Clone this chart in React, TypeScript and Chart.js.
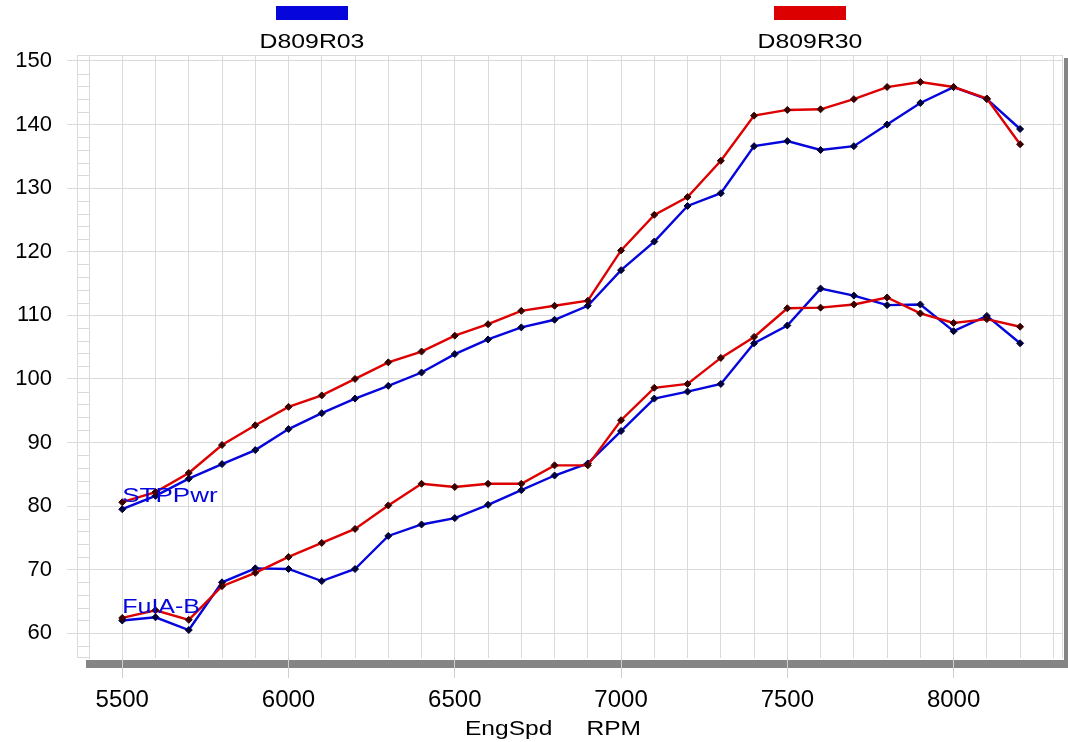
import React, { useEffect, useRef } from "react";
import { Chart, registerables } from "chart.js";

Chart.register(...registerables);

// ---------------- data ----------------
const rpm = [
  5500, 5600, 5700, 5800, 5900, 6000, 6100, 6200, 6300, 6400, 6500, 6600, 6700, 6800,
  6900, 7000, 7100, 7200, 7300, 7400, 7500, 7600, 7700, 7800, 7900, 8000, 8100, 8200,
];

const runNames = ["D809R03", "D809R30"];
const channelNames = ["STPPwr", "FuIA-B"];

const pwrR03 = [
  79.5, 81.6, 84.3, 86.6, 88.8, 92.1, 94.6, 96.9, 98.9, 101.0, 103.9, 106.2, 108.1, 109.3,
  111.5, 117.1, 121.6, 127.2, 129.2, 136.6, 137.4, 136.0, 136.6, 140.0, 143.4, 145.9, 144.0, 139.3,
];
const pwrR30 = [
  80.6, 82.2, 85.2, 89.6, 92.7, 95.6, 97.4, 100.0, 102.6, 104.3, 106.8, 108.6, 110.7, 111.5,
  112.3, 120.2, 125.8, 128.6, 134.3, 141.4, 142.3, 142.4, 144.0, 145.9, 146.7, 145.9, 144.1, 136.9,
];
const fuelR03 = [
  62.0, 62.5, 60.5, 68.0, 70.2, 70.1, 68.2, 70.1, 75.3, 77.1, 78.1, 80.2, 82.5, 84.8,
  86.7, 91.8, 96.9, 98.0, 99.2, 105.6, 108.4, 114.2, 113.1, 111.6, 111.7, 107.5, 109.9, 105.6,
];
const fuelR30 = [
  62.4, 63.6, 62.1, 67.4, 69.5, 72.0, 74.2, 76.4, 80.1, 83.5, 83.0, 83.5, 83.5, 86.4,
  86.4, 93.5, 98.6, 99.2, 103.3, 106.6, 111.1, 111.2, 111.7, 112.8, 110.3, 108.8, 109.4, 108.2,
];

const xTickLabels = [5500, 6000, 6500, 7000, 7500, 8000];
const xGridValues = [
  5400, 5500, 5600, 5700, 5800, 5900, 6000, 6100, 6200, 6300, 6400, 6500, 6600, 6700, 6800,
  6900, 7000, 7100, 7200, 7300, 7400, 7500, 7600, 7700, 7800, 7900, 8000, 8100, 8200, 8300,
];
const yTickValues = [60, 70, 80, 90, 100, 110, 120, 130, 140, 150];
const xTitle = "EngSpd     RPM";

// ---------------- style ----------------
const BLUE = "#0505dc";
const RED = "#dd0000";
const GRID = "#dadada";
const FONT = "'Liberation Sans', Arial, Helvetica, sans-serif";

function stretchText(
  ctx: CanvasRenderingContext2D,
  text: string,
  x: number,
  y: number,
  size: number,
  color: string,
  sx: number,
  align: "left" | "center"
) {
  ctx.save();
  ctx.font = `${size}px ${FONT}`;
  ctx.fillStyle = color;
  ctx.textBaseline = "alphabetic";
  ctx.textAlign = "left";
  const w = ctx.measureText(text).width * sx;
  const left = align === "center" ? x - w / 2 : x;
  ctx.translate(left, y);
  ctx.scale(sx, 1);
  ctx.fillText(text, 0, 0);
  ctx.restore();
}

const decorPlugin = {
  id: "decor",
  beforeDraw(chart: any) {
    const { ctx, chartArea } = chart;
    const { left, right, top, bottom } = chartArea;
    const y = chart.scales.y;
    ctx.save();
    // drop shadow (bottom bar and right edge)
    ctx.fillStyle = "#858585";
    ctx.fillRect(left - 3, bottom + 2, chart.width - (left - 3), 8);
    ctx.fillRect(right + 1, top + 3, chart.width - right - 1, bottom + 10 - (top + 3));
    // borders
    ctx.strokeStyle = GRID;
    ctx.lineWidth = 1;
    ctx.beginPath();
    ctx.moveTo(left - 12, top + 0.5);
    ctx.lineTo(right, top + 0.5);
    ctx.moveTo(right - 0.5, top);
    ctx.lineTo(right - 0.5, bottom);
    // minor tick strip
    ctx.moveTo(left - 11.5, top);
    ctx.lineTo(left - 11.5, bottom);
    ctx.moveTo(left - 12, bottom - 0.5);
    ctx.lineTo(left, bottom - 0.5);
    for (let v = Math.ceil(y.min); v <= y.max; v++) {
      if (v % 2 !== 0 || v % 10 === 0) continue;
      const py = Math.round(y.getPixelForValue(v)) + 0.5;
      ctx.moveTo(left - 12, py);
      ctx.lineTo(left, py);
    }
    ctx.stroke();
    ctx.restore();
  },
  afterDraw(chart: any) {
    const { ctx } = chart;
    const xs = chart.scales.x;
    const ys = chart.scales.y;
    // legend
    const legendCenters = [312, 810];
    const legendColors = [BLUE, RED];
    runNames.forEach((name, i) => {
      ctx.fillStyle = legendColors[i];
      ctx.fillRect(legendCenters[i] - 36, 6, 72, 14);
      stretchText(ctx, name, legendCenters[i], 48, 20, "#000", 1.24, "center");
    });
    // channel labels
    const firstVals = [pwrR03[0], fuelR03[0]];
    const stretch = [1.3, 1.25];
    channelNames.forEach((name, i) => {
      const px = xs.getPixelForValue(rpm[0]);
      const py = ys.getPixelForValue(firstVals[i]) - 7.5;
      stretchText(ctx, name, px, py, 20, BLUE, stretch[i], "left");
    });
    // x axis title
    const cx = (chart.chartArea.left + chart.chartArea.right) / 2 - 23;
    stretchText(ctx, xTitle, cx, 735, 21, "#000", 1.17, "center");
  },
};

function series(values: number[]) {
  return rpm.map((r, i) => ({ x: r, y: values[i] }));
}

function lineDs(label: string, values: number[], color: string, pointColor: string, order: number) {
  return {
    label,
    data: series(values),
    borderColor: color,
    backgroundColor: color,
    borderWidth: 2.4,
    pointStyle: "rectRot" as const,
    pointRadius: 3.5,
    pointBackgroundColor: pointColor,
    pointBorderColor: pointColor,
    pointBorderWidth: 1,
    tension: 0,
    fill: false,
    order,
  };
}

export default function App() {
  const ref = useRef<HTMLCanvasElement>(null);

  useEffect(() => {
    if (!ref.current) return;
    const chart = new Chart(ref.current, {
      type: "line",
      data: {
        datasets: [
          lineDs(`${channelNames[0]} ${runNames[0]}`, pwrR03, BLUE, "#00003a", 2),
          lineDs(`${channelNames[0]} ${runNames[1]}`, pwrR30, RED, "#3a0000", 1),
          lineDs(`${channelNames[1]} ${runNames[0]}`, fuelR03, BLUE, "#00003a", 2),
          lineDs(`${channelNames[1]} ${runNames[1]}`, fuelR30, RED, "#3a0000", 1),
        ],
      },
      options: {
        responsive: false,
        animation: false,
        devicePixelRatio: 1,
        events: [],
        layout: { padding: { top: 55, right: 4, left: 0, bottom: 0 } },
        plugins: {
          legend: { display: false },
          tooltip: { enabled: false },
          title: { display: false },
        },
        scales: {
          x: {
            type: "linear",
            position: "bottom",
            min: 5400,
            max: 8329,
            afterBuildTicks: (scale: any) => {
              scale.ticks = xGridValues.map((v) => ({ value: v }));
            },
            afterFit: (scale: any) => {
              scale.height = 84;
            },
            grid: {
              color: GRID,
              lineWidth: 1,
              tickLength: 20,
              tickColor: (c: any) =>
                c.tick && xTickLabels.includes(c.tick.value) ? "#cfcfcf" : "rgba(0,0,0,0)",
            },
            border: { display: false },
            ticks: {
              autoSkip: false,
              maxRotation: 0,
              padding: 8,
              color: "#000",
              font: { family: FONT, size: 24 },
              callback: (v: any) => (xTickLabels.includes(Number(v)) ? String(v) : ""),
            },
          },
          y: {
            type: "linear",
            min: 56.1,
            max: 150.94,
            afterBuildTicks: (scale: any) => {
              scale.ticks = yTickValues.map((v) => ({ value: v }));
            },
            afterFit: (scale: any) => {
              scale.width = 89;
            },
            grid: { color: GRID, lineWidth: 1, tickLength: 22, tickColor: GRID },
            border: { display: true, color: GRID, width: 1 },
            ticks: {
              autoSkip: false,
              padding: 15,
              color: "#000",
              font: { family: FONT, size: 22 },
              callback: (v: any) => String(v),
            },
          },
        },
      },
      plugins: [decorPlugin],
    } as any);
    return () => chart.destroy();
  }, []);

  return (
    <div
      style={{
        position: "absolute",
        left: 0,
        top: 0,
        width: 1068,
        height: 742,
        background: "#fff",
        overflow: "hidden",
      }}
    >
      <canvas ref={ref} width={1068} height={742} style={{ display: "block" }} />
    </div>
  );
}
